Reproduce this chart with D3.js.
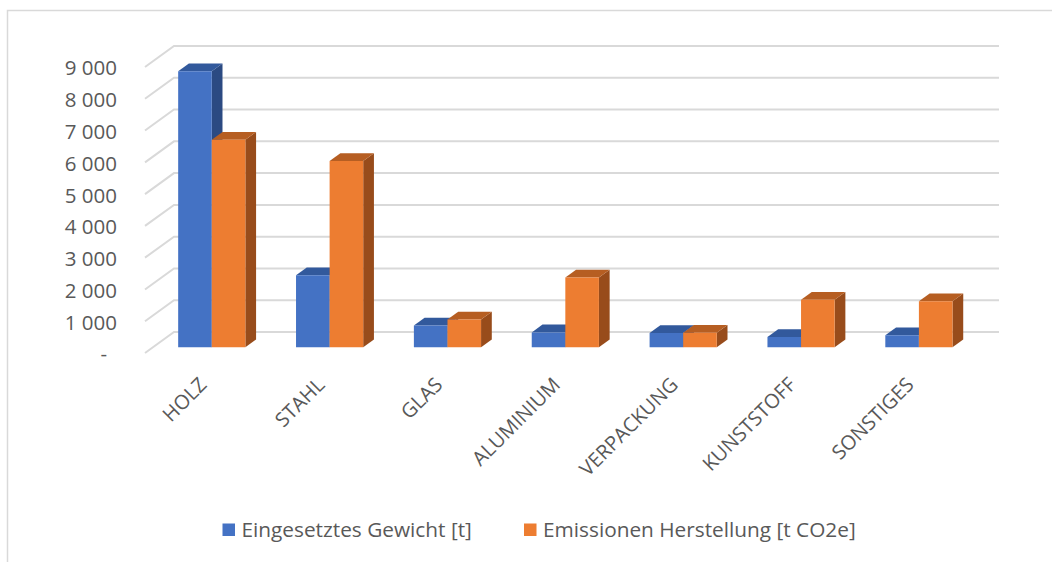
<!DOCTYPE html>
<html>
<head>
<meta charset="utf-8">
<script src="https://cdnjs.cloudflare.com/ajax/libs/d3/7.8.5/d3.min.js"></script>
<style>
    body { margin: 0; background: #fff; }
    text { font-family: "Open Sans", "Noto Sans", sans-serif; fill: #595959; }
</style>
</head>
<body>
<svg id="mysvg"></svg>
<script>
var categories = ["HOLZ", "STAHL", "GLAS", "ALUMINIUM", "VERPACKUNG", "KUNSTSTOFF", "SONSTIGES"];
var seriesNames = ["Eingesetztes Gewicht [t]", "Emissionen Herstellung [t CO2e]"];
var gewicht = [8690, 2270, 690, 470, 450, 325, 380];
var emissionen = [6535, 5860, 875, 2195, 455, 1500, 1450];
var yTicks = [0, 1000, 2000, 3000, 4000, 5000, 6000, 7000, 8000, 9000];

var colors = [
    {front: "#4472C4", top: "#32599C", side: "#2B4A82"},
    {front: "#ED7D31", top: "#B65E22", side: "#984C1B"}
];

var W = 1052, H = 562;
var svg = d3.select("#mysvg").attr("width", W).attr("height", H);

// oblique depth vector of the whole plot (front -> back wall)
var DEPTH_X = 29, DEPTH_Y = -21;
var BAR_D0 = 0.27, BAR_D1 = 0.64;

var x = d3.scaleBand()
    .domain(categories)
    .range([145, 970])
    .paddingInner(0.43)
    .paddingOuter(0.215);

var xs = d3.scaleBand()
    .domain([0, 1])
    .range([0, x.bandwidth()]);

var y = d3.scaleLinear()
    .domain([0, 9000])
    .range([353, 67]);

function pt(px, v, d) {
    return [px + d * DEPTH_X, y(v) + d * DEPTH_Y];
}

function poly(points) {
    return "M" + points.map(function(p) { return p[0] + "," + p[1]; }).join("L") + "Z";
}

// outer frame
svg.append("rect")
    .attr("x", 7.5).attr("y", 10.5)
    .attr("width", W + 20).attr("height", H + 20)
    .attr("fill", "none")
    .attr("stroke", "#d9d9d9")
    .attr("stroke-width", 1.5);

// back wall + side wall gridlines
var grid = svg.append("g")
    .attr("stroke", "#d9d9d9")
    .attr("stroke-width", 2)
    .attr("fill", "none");

yTicks.forEach(function(t) {
    var a = pt(x.range()[0], t, 0);
    var b = pt(x.range()[0], t, 1);
    var c = pt(x.range()[1], t, 1);
    grid.append("path").attr("d", "M" + a + "L" + b + "L" + c);
});

// y tick labels
svg.append("g").selectAll("text")
    .data(yTicks)
    .join("text")
    .attr("x", function(d) { return d === 0 ? 107 : 117; })
    .attr("y", function(d) { return y(d) + 3; })
    .attr("text-anchor", "end")
    .attr("dominant-baseline", "middle")
    .attr("font-size", 20.5)
    .text(function(d) { return d === 0 ? "-" : d3.format(",")(d).replace(",", " "); });

// bars
var bars = svg.append("g");
categories.forEach(function(cat, i) {
    [gewicht[i], emissionen[i]].forEach(function(v, s) {
        var x0 = x(cat) + xs(s), x1 = x0 + xs.bandwidth();
        var c = colors[s];
        var g = bars.append("g");
        // side
        g.append("path").attr("fill", c.side)
            .attr("d", poly([pt(x1, 0, BAR_D0), pt(x1, 0, BAR_D1), pt(x1, v, BAR_D1), pt(x1, v, BAR_D0)]));
        // top
        g.append("path").attr("fill", c.top)
            .attr("d", poly([pt(x0, v, BAR_D0), pt(x1, v, BAR_D0), pt(x1, v, BAR_D1), pt(x0, v, BAR_D1)]));
        // front
        g.append("path").attr("fill", c.front)
            .attr("d", poly([pt(x0, 0, BAR_D0), pt(x1, 0, BAR_D0), pt(x1, v, BAR_D0), pt(x0, v, BAR_D0)]));
    });
});

// category labels, rotated
svg.append("g").selectAll("text")
    .data(categories)
    .join("text")
    .attr("text-anchor", "end")
    .attr("font-size", 20)
    .attr("transform", function(d) {
        var cx = x(d) + x.bandwidth() / 2 + 4;
        return "translate(" + cx + ",386) rotate(-45)";
    })
    .text(function(d) { return d; });

// legend
var legendX = [222.5, 524];
var legend = svg.append("g");
seriesNames.forEach(function(name, s) {
    legend.append("rect")
        .attr("x", legendX[s]).attr("y", 523.5)
        .attr("width", 12.5).attr("height", 12.5)
        .attr("fill", colors[s].front);
    legend.append("text")
        .attr("x", legendX[s] + 19).attr("y", 537)
        .attr("font-size", 20.8)
        .text(name);
});
</script>
</body>
</html>
